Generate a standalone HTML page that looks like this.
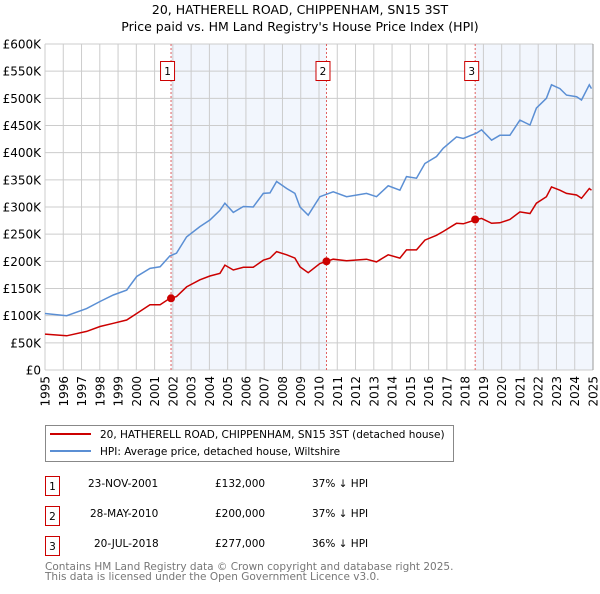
<!DOCTYPE html>
<html><head><meta charset="utf-8"><style>
body{margin:0;background:#fff;font-family:"DejaVu Sans","Liberation Sans",sans-serif;}
svg text{font-family:"DejaVu Sans","Liberation Sans",sans-serif;}
</style></head><body>
<svg id="c" width="600" height="590" xmlns="http://www.w3.org/2000/svg">
<text x="300" y="14" text-anchor="middle" font-size="12.5">20, HATHERELL ROAD, CHIPPENHAM, SN15 3ST</text>
<text x="300" y="31" text-anchor="middle" font-size="12.5">Price paid vs. HM Land Registry's House Price Index (HPI)</text>
<g id="plot"></g>
<g>
<rect x="45.5" y="425.5" width="408" height="36" fill="#fff" stroke="#888"/>
<line x1="50" y1="434" x2="91" y2="434" stroke="#cc0000" stroke-width="2"/>
<text x="100" y="438" font-size="10.5">20, HATHERELL ROAD, CHIPPENHAM, SN15 3ST (detached house)</text>
<line x1="50" y1="451" x2="91" y2="451" stroke="#5b8fd4" stroke-width="2"/>
<text x="100" y="455" font-size="10.5">HPI: Average price, detached house, Wiltshire</text>
</g>
<g font-size="10.5">
<rect x="45.5" y="476.5" width="14" height="19" fill="none" stroke="#cc0000"/><text x="52.5" y="490" text-anchor="middle">1</text>
<text x="88" y="487">23-NOV-2001</text><text x="215" y="487">£132,000</text><text x="312" y="487">37% ↓ HPI</text>
<rect x="45.5" y="506.5" width="14" height="19" fill="none" stroke="#cc0000"/><text x="52.5" y="520" text-anchor="middle">2</text>
<text x="90" y="517">28-MAY-2010</text><text x="215" y="517">£200,000</text><text x="312" y="517">37% ↓ HPI</text>
<rect x="45.5" y="536.5" width="14" height="19" fill="none" stroke="#cc0000"/><text x="52.5" y="550" text-anchor="middle">3</text>
<text x="94" y="547">20-JUL-2018</text><text x="215" y="547">£277,000</text><text x="312" y="547">36% ↓ HPI</text>
</g>
<text x="45" y="570" font-size="10.5" fill="#777">Contains HM Land Registry data © Crown copyright and database right 2025.</text>
<text x="45" y="580" font-size="10.5" fill="#777">This data is licensed under the Open Government Licence v3.0.</text>
</svg>
<script>
const hpiYears=[1995.0,1996.19,1997.28,1998.01,1998.74,1999.47,2000.02,2000.75,2001.3,2001.84,2002.2,2002.75,2003.48,2004.03,2004.58,2004.85,2005.31,2005.86,2006.4,2006.95,2007.32,2007.68,2008.23,2008.68,2008.96,2009.41,2010.05,2010.78,2011.51,2012.6,2013.15,2013.79,2014.43,2014.79,2015.34,2015.8,2016.43,2016.8,2017.53,2017.9,2018.63,2018.9,2019.45,2019.9,2020.45,2021.0,2021.55,2021.9,2022.45,2022.73,2023.19,2023.55,2024.1,2024.37,2024.8,2024.92];
const hpiValues=[104,100,113,126,138,147,172,187,190,210,215,245,264,276,294,307,290,301,300,325,326,347,334,325,300,285,319,328,319,325,319,339,331,356,353,380,393,408,429,426,436,442,423,432,432,460,451,482,500,525,518,506,503,497,525,518];
const priceValues=[66,63,71,80,86,92,104,120,120,132,135,153,166,173,178,193,184,189,189,202,206,218,212,206,190,179,196,204,201,204,199,212,206,221,221,239,248,255,270,269,277,279,270,271,277,291,288,307,319,337,331,325,322,316,334,331];
const saleYears=[2001.9,2010.41,2018.55];
const salePrices=[132,200,277];
const saleLabels=["1","2","3"];
const yTicks=[0,50,100,150,200,250,300,350,400,450,500,550,600];
const yTickLabels=["£0","£50K","£100K","£150K","£200K","£250K","£300K","£350K","£400K","£450K","£500K","£550K","£600K"];
const xStart=1995,xEnd=2025;
const X0=45,X1=593,Y0=370,Y1=44;
const sx=y=>X0+(y-xStart)/(xEnd-xStart)*(X1-X0);
const sy=v=>Y0-v/600*(Y0-Y1);
const NS="http://www.w3.org/2000/svg";
const g=document.getElementById('plot');
function mk(t,a,parent){const e=document.createElementNS(NS,t);for(const k in a)e.setAttribute(k,a[k]);(parent||g).appendChild(e);return e;}
mk('rect',{x:X0,y:Y1,width:X1-X0,height:Y0-Y1,fill:'#fff'});
let s1=mk('rect',{x:sx(saleYears[0]),y:Y1,width:sx(saleYears[1])-sx(saleYears[0]),height:Y0-Y1,fill:'#eef3fc',opacity:0.75});


let s2=mk('rect',{x:sx(saleYears[2]),y:Y1,width:X1-sx(saleYears[2]),height:Y0-Y1,fill:'#eef3fc',opacity:0.75});


for(let i=0;i<yTicks.length;i++){
 const y=sy(yTicks[i]);
 let l=mk('line',{x1:X0,x2:X1,y1:y,y2:y,stroke:'#ccc','stroke-width':1});
 
 
 let t=mk('text',{x:41,y:y+4.5,'text-anchor':'end','font-size':12});
 
 
 t.textContent=yTickLabels[i];
}
for(let yr=xStart;yr<=xEnd;yr++){
 const x=sx(yr);
 let l=mk('line',{x1:x,x2:x,y1:Y1,y2:Y0,stroke:'#ccc','stroke-width':1});
 
 
 let t=mk('text',{x:0,y:0,'text-anchor':'end','font-size':12,transform:`translate(${x+4.5},${Y0+6}) rotate(-90)`});
 
 
 t.textContent=yr;
}
mk('line',{x1:X1,x2:X1,y1:Y1,y2:Y0,stroke:'#999'});
for(let i=0;i<saleYears.length;i++){
 const x=sx(saleYears[i]);
 let l=mk('line',{x1:x,x2:x,y1:Y1,y2:Y0,stroke:'#e06060','stroke-dasharray':'2,2','stroke-width':1});
 
 
 let r=mk('rect',{x:x-10.5,y:61.5,width:14,height:19,fill:'#fff',stroke:'#cc0000'});
 
 
 let t=mk('text',{x:x-3.5,y:75,'text-anchor':'middle','font-size':10.5});
 
 
 t.textContent=saleLabels[i];
}
const path=(ys,vs)=>ys.map((y,i)=>(i?'L':'M')+sx(y).toFixed(1)+','+sy(vs[i]).toFixed(1)).join('');
let hp=mk('path',{d:path(hpiYears,hpiValues),fill:'none',stroke:'#5b8fd4','stroke-width':1.5});


let pp=mk('path',{d:path(hpiYears,priceValues),fill:'none',stroke:'#cc0000','stroke-width':1.5});


for(let i=0;i<saleYears.length;i++){
 let c=mk('circle',{cx:sx(saleYears[i]),cy:sy(salePrices[i]),r:4,fill:'#cc0000'});
 
 
}
</script>
</body></html>
